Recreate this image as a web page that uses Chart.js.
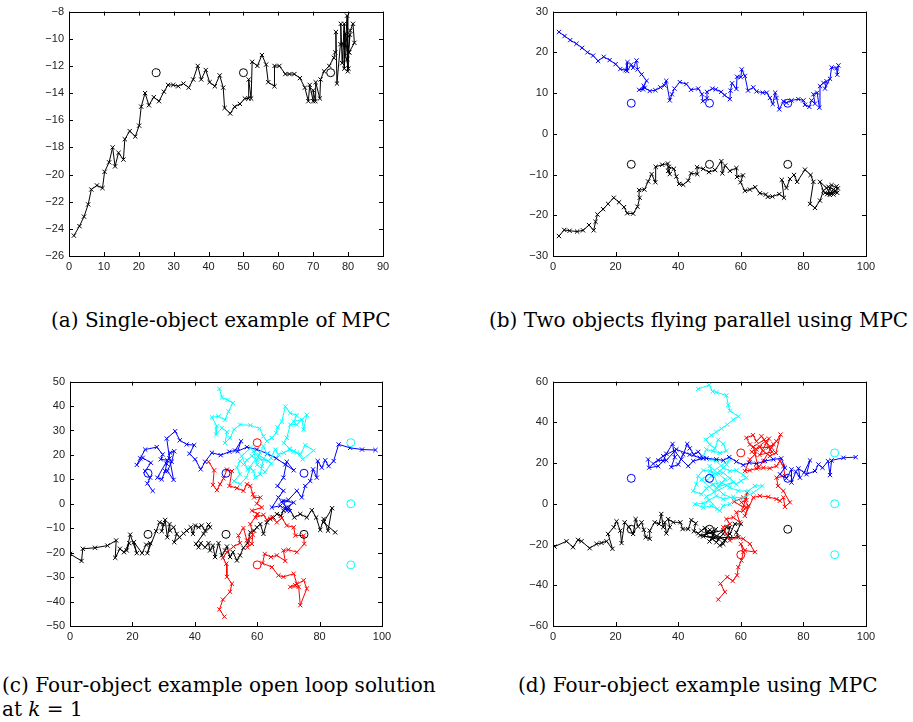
<!DOCTYPE html>
<html>
<head>
<meta charset="utf-8">
<script src="https://cdn.jsdelivr.net/npm/chart.js@4.4.1/dist/chart.umd.min.js"></script>
<style>
  body { margin: 0; background: #fff; width: 913px; height: 722px; position: relative; overflow: hidden; }
  canvas { position: absolute; }
  .cap { position: absolute; font-family: "DejaVu Serif", serif; font-size: 20px; line-height: 24px; color: #000; white-space: nowrap; }
</style>
</head>
<body>
<canvas id="ca" width="370" height="280" style="left:30px;top:0px"></canvas>
<canvas id="cb" width="380" height="280" style="left:510px;top:0px"></canvas>
<canvas id="cc" width="370" height="280" style="left:30px;top:370px"></canvas>
<canvas id="cd" width="380" height="280" style="left:510px;top:370px"></canvas>
<div class="cap" style="left:51px;top:308px">(a) Single-object example of MPC</div>
<div class="cap" style="left:489px;top:308px">(b) Two objects flying parallel using MPC</div>
<div class="cap" style="left:2px;top:673px">(c) Four-object example open loop solution</div>
<div class="cap" style="left:2px;top:697px">at <i>k</i> = 1</div>
<div class="cap" style="left:518px;top:673px">(d) Four-object example using MPC</div>
<script>
// (a) single object
const aX = [1.4,3.0,4.3,5.5,6.4,8.0,9.6,10.2,11.5,12.5,13.2,14.2,15.6,16.0,17.4,19.0,20.1,20.7,21.8,22.9,24.3,25.8,27.2,28.4,29.9,31.3,32.8,34.3,35.6,36.9,37.9,39.2,40.3,41.8,43.2,44.2,44.6,46.2,47.5,49.0,50.4,51.5,51.5,52.2,52.5,54.0,55.3,56.5,57.1,58.9,58.9,60.3,62.0,63.2,64.6,66.2,67.6,68.6,69.0,70.0,70.0,70.6,70.7,71.9,72.1,73.1,74.6,75.9,76.3,76.5,76.8,77.8,77.9,78.3,78.9,78.9,79.7,79.9,80.2,80.6,81.4,81.8,80.3,79.2,80.1,78.6,80.5,79.8]
const aY = [-24.5,-23.8,-23.1,-22.2,-21.1,-20.8,-21.0,-19.8,-19.1,-18.0,-19.4,-18.4,-18.9,-17.4,-16.8,-17.2,-16.4,-15.0,-14.0,-14.9,-14.3,-14.6,-13.9,-13.4,-13.4,-13.5,-13.3,-13.6,-13.0,-12.0,-13.0,-12.3,-13.2,-13.5,-12.7,-13.6,-15.1,-15.5,-15.0,-14.8,-14.4,-14.4,-13.0,-14.4,-11.7,-12.0,-11.2,-11.9,-13.2,-13.5,-12.0,-12.0,-12.6,-12.6,-12.6,-12.9,-13.6,-14.6,-13.4,-14.6,-13.8,-14.6,-13.2,-14.4,-13.0,-12.4,-12.0,-11.4,-11.0,-9.5,-13.3,-10.4,-8.9,-11.8,-8.9,-12.2,-8.3,-12.4,-11.0,-9.4,-8.9,-10.3,-11.0,-9.6,-12.2,-10.4,-9.7,-11.5]
const aGoalX = [25, 50, 75]
const aGoalY = [-12.5, -12.5, -12.5]

// (b) two objects
const bBlueX = [1.9,3.7,5.5,7.5,9.3,11.0,12.8,14.4,16.2,18.1,20.0,21.5,23.2,23.8,23.7,25.0,25.6,26.7,27.0,28.3,29.9,29.0,28.8,27.5,29.3,30.9,32.7,34.3,35.6,36.2,37.3,38.0,38.8,40.5,42.6,44.1,46.4,47.6,47.9,49.2,49.2,50.9,52.0,53.7,54.8,56.5,56.7,57.2,58.6,58.8,60.0,60.3,61.3,62.3,64.0,65.0,67.0,68.3,69.3,70.2,71.0,71.4,72.3,73.6,74.6,76.2,78.4,80.0,80.5,81.9,82.6,83.7,83.2,84.4,85.1,85.3,86.4,87.4,86.9,88.5,89.0,90.6,90.8,91.2]
const bBlueY = [25.0,24.0,23.0,22.1,21.1,20.0,19.2,17.9,18.9,18.1,17.1,15.9,15.6,17.6,15.4,17.0,16.2,18.0,15.8,14.6,13.0,11.8,10.9,10.8,11.3,10.5,10.7,11.4,11.9,13.0,8.2,9.7,11.1,12.7,12.2,10.8,11.1,9.7,8.0,8.7,10.3,11.1,10.9,10.3,9.5,8.5,10.6,12.4,11.0,14.0,13.9,15.8,14.2,10.6,11.4,10.4,10.1,10.1,8.8,7.3,10.1,8.8,6.0,8.0,7.6,8.2,8.5,8.2,7.1,6.6,8.2,7.4,9.7,10.1,6.4,11.7,12.5,12.9,11.1,13.5,16.3,16.1,14.5,16.8]
const bBlackX = [1.9,3.6,5.3,7.7,9.6,11.5,13.0,13.6,14.2,16.0,17.6,19.4,21.1,22.7,23.7,25.6,27.0,27.7,27.5,29.2,30.4,31.5,32.7,32.8,34.9,36.7,36.8,37.3,37.0,38.6,39.4,40.3,41.6,43.2,44.1,46.1,46.0,48.0,49.8,51.8,53.8,54.1,55.0,56.5,58.6,58.8,60.7,59.9,61.3,62.9,64.6,66.1,68.0,68.6,70.1,72.3,73.8,73.1,74.6,75.7,77.0,78.0,80.5,82.3,83.2,82.1,83.7,85.3,86.4,85.3,87.4,88.5,89.6,90.6,90.8,86.9,89.6,88.0,90.2,87.6,89.0,91.0,88.4]
const bBlackY = [-25.1,-23.6,-23.8,-24.0,-23.7,-22.4,-23.7,-21.6,-19.8,-18.5,-17.2,-15.7,-16.8,-18.0,-19.5,-19.6,-17.9,-15.7,-13.8,-13.7,-11.7,-9.9,-11.9,-8.1,-7.6,-7.3,-9.1,-9.9,-8.1,-8.6,-10.5,-12.3,-12.5,-11.5,-9.7,-9.9,-8.2,-8.6,-9.4,-8.9,-6.7,-9.7,-7.8,-9.1,-8.4,-10.6,-10.2,-11.9,-14.0,-13.7,-13.1,-14.6,-14.9,-15.5,-15.4,-14.8,-15.7,-11.3,-13.3,-11.1,-10.1,-11.8,-8.8,-10.1,-11.8,-17.2,-18.2,-16.4,-14.0,-11.8,-13.3,-14.5,-13.7,-12.9,-14.5,-14.5,-14.9,-13.0,-14.0,-14.8,-12.6,-13.4,-15.0]
const bGoalX = [25, 50, 75]
const bGoalBlueY = [7.5, 7.5, 7.5]
const bGoalBlackY = [-7.5, -7.5, -7.5]

// (c) four objects, open loop
const cBlackX = [0.0,3.7,4.1,8.0,12.0,14.8,14.5,16.0,17.3,19.0,18.2,19.3,21.4,20.5,23.1,24.4,25.7,24.8,27.6,28.7,29.9,29.4,30.5,31.2,31.9,32.1,33.2,34.2,33.4,35.1,36.4,37.4,38.7,39.4,40.1,41.2,42.2,43.3,44.4,44.9,42.8,40.4,41.2,41.9,43.3,44.4,44.9,45.8,46.5,47.6,48.7,49.7,50.3,51.3,52.2,53.5,54.5,55.6,56.9,57.8,59.0,59.9,61.0,62.0,63.1,64.2,65.2,66.3,67.6,68.4,70.1,71.9,73.8,75.9,77.5,78.9,80.2,81.3,82.7,84.0,81.3,85.0]
const cBlackY = [-20.5,-23.4,-18.4,-18.0,-17.1,-15.0,-22.1,-18.4,-19.8,-16.1,-19.1,-12.6,-20.2,-15.7,-20.2,-16.7,-16.1,-20.2,-11.2,-7.6,-8.3,-11.2,-6.6,-13.7,-8.3,-11.0,-9.6,-12.3,-15.7,-13.7,-12.1,-11.0,-9.6,-12.3,-8.9,-9.6,-8.9,-11.0,-8.5,-9.6,-12.3,-16.4,-17.8,-16.1,-17.8,-16.1,-19.1,-17.1,-21.8,-16.1,-21.1,-19.1,-17.5,-21.8,-19.8,-23.2,-21.1,-18.0,-16.1,-11.7,-11.0,-9.6,-8.3,-12.3,-7.6,-6.2,-5.6,-4.2,-4.9,-2.8,-1.5,-5.6,-4.2,-5.6,-2.6,-5.6,-10.7,-6.2,-11.0,-1.8,-7.6,-11.7]
const cBlueX = [26.5,24.8,25.7,24.1,25.9,23.3,21.4,22.5,24.1,27.8,29.7,29.1,31.2,28.0,29.4,30.5,31.0,32.1,33.4,32.6,31.2,33.2,31.9,31.0,33.7,35.2,37.4,39.8,38.3,40.1,41.9,43.3,45.5,48.3,51.1,52.9,54.8,53.7,56.7,59.9,63.3,66.1,69.0,71.7,69.5,68.4,66.5,68.4,66.8,64.7,67.4,69.5,68.4,71.7,69.0,70.5,67.8,70.0,72.7,74.3,75.4,77.0,77.9,79.1,79.4,80.7,81.8,82.9,84.5,86.1,89.8,93.6,97.9]
const cBlueY = [5.3,8.3,10.7,13.4,16.8,18.8,15.9,18.6,22.2,23.2,20.2,18.2,17.8,10.7,10.0,13.4,16.4,20.9,21.5,17.2,13.4,9.8,18.6,26.7,29.7,26.0,24.3,24.0,20.5,18.2,14.1,17.2,20.9,19.9,21.3,21.8,25.6,21.5,23.2,22.2,20.5,18.6,16.1,13.7,17.2,10.7,7.3,5.3,2.6,-1.5,-0.8,-2.8,1.2,0.5,-1.8,-3.0,0.8,1.6,5.3,2.6,7.3,9.3,14.1,10.7,17.5,14.8,17.8,15.4,17.5,24.3,22.9,22.2,22.0]
const cRedX1 = [44.4,46.2,45.8,47.1,48.1,49.2,50.3,51.9,51.1,53.5,55.6,56.7,57.8,58.6,59.0,61.0,59.9,61.5,58.3,60.1,59.4,62.0,63.1,64.7,66.3,67.9,69.5,71.7,72.2,74.9,75.1,72.7,70.0,68.4,69.0,66.3,64.4,62.4,61.7,64.7,66.8,68.4,71.7,72.7,70.6,73.3,73.8,75.9,74.9,72.2]
const cRedY1 = [17.2,13.7,7.7,5.6,8.0,10.4,14.0,13.4,7.3,6.4,5.3,8.0,7.3,3.9,2.6,2.6,0.1,-1.5,-2.8,-4.2,-5.6,-4.5,-6.6,-5.6,-7.6,-5.8,-8.9,-9.6,-13.0,-13.0,-16.4,-19.8,-18.8,-19.1,-23.4,-21.1,-21.8,-20.5,-24.3,-25.9,-29.3,-29.9,-28.6,-32.7,-34.0,-34.0,-41.5,-34.7,-31.3,-33.3]
const cRedX2 = [60.1,57.8,58.6,58.3,56.9,57.8,56.7,55.6,54.0,54.5,52.4,50.3,49.0,50.1,50.3,51.9,51.3,49.0,47.9,49.5]
const cRedY2 = [-4.2,-8.3,-12.6,-16.4,-17.8,-13.7,-15.0,-9.9,-13.0,-16.1,-17.5,-19.8,-22.1,-24.5,-29.9,-32.7,-36.0,-39.2,-43.2,-46.2]
const cCyanX = [47.9,48.7,50.5,52.2,50.8,49.7,47.6,45.5,47.1,46.8,48.7,50.3,49.7,51.3,52.6,54.5,57.8,60.8,62.0,63.1,64.7,66.1,66.5,67.9,69.0,70.6,72.7,71.7,74.3,74.9,75.9,72.7,70.6,69.5,68.5,70.4,71.7,73.8,75.4,78.1,74.6,72.7,70.4,68.5,66.8,65.8,64.4,63.1,62.0,60.9,59.9,58.3,56.7,55.6,54.5,53.5,54.5,52.6,54.5,56.5,57.8,58.8,59.4,61.0,61.5,62.0,63.6,61.0,58.8,60.0,62.5,64.5,60.5,57.0,55.0,58.0]
const cCyanY = [47.0,43.5,42.5,41.2,37.8,34.4,35.8,35.4,31.7,28.3,31.0,29.4,24.9,27.0,30.4,32.4,32.1,30.8,27.6,25.6,27.0,29.0,31.3,33.7,39.8,37.1,36.2,33.7,34.4,30.4,36.4,32.4,32.4,27.0,24.9,22.6,21.5,20.2,24.0,21.8,18.2,20.9,22.2,20.9,20.2,22.2,18.8,20.5,23.6,20.9,17.8,19.5,17.8,16.1,17.5,14.8,12.1,9.3,8.0,10.7,14.8,13.4,10.7,12.1,15.4,18.6,17.5,18.2,21.5,16.0,13.0,16.5,20.0,14.0,19.5,23.0]

// (d) four objects, MPC
const dBlackX = [0.5,4.3,6.4,8.0,9.1,11.7,13.9,15.5,17.1,19.0,17.6,19.4,20.3,21.5,21.9,22.9,24.3,25.6,26.4,27.2,28.3,29.0,29.6,30.9,30.9,32.5,33.9,34.6,35.2,35.7,36.2,37.3,36.8,38.4,40.7,41.4,43.2,44.2,45.6,45.0,46.4,47.4,48.5,49.0,50.1,51.4,50.9,52.2,53.3,54.4,55.4,56.5,55.9,54.4,53.3,56.5,58.1,60.0,58.6,59.2,56.7,48.0,52.0,50.0,54.5,47.0,53.0,49.5,55.0]
const dBlackY = [-21.0,-18.4,-21.3,-17.7,-18.4,-21.8,-19.7,-19.2,-18.4,-22.1,-14.8,-11.5,-8.6,-13.2,-19.3,-9.1,-11.5,-14.8,-7.5,-11.2,-9.1,-12.8,-16.4,-17.2,-13.2,-9.1,-9.9,-5.0,-11.5,-9.1,-14.5,-11.5,-7.5,-9.1,-9.1,-12.4,-12.4,-8.0,-9.6,-13.5,-14.5,-13.2,-11.9,-14.8,-12.8,-14.5,-17.2,-18.9,-16.4,-14.8,-11.5,-11.5,-15.6,-19.7,-20.5,-14.8,-9.9,-9.9,-14.0,-16.4,-16.7,-16.0,-12.5,-18.5,-13.0,-15.5,-17.5,-13.5,-18.0]
const dBlueX = [30.4,30.7,33.6,35.2,36.2,38.2,38.9,37.8,40.0,41.6,42.9,43.7,45.0,46.4,48.0,44.8,43.2,41.0,38.9,36.2,33.6,32.0,35.2,39.4,43.7,46.9,49.0,52.2,54.4,56.3,58.6,60.8,62.7,65.0,67.7,70.4,72.9,74.1,72.5,74.6,76.2,76.2,77.6,78.9,78.4,80.2,82.1,81.0,83.7,84.8,86.1,87.9,88.5,89.0,92.8,96.7]
const dBlueY = [21.8,17.7,18.5,21.0,24.6,29.4,22.9,18.0,19.3,24.2,29.4,27.2,24.2,25.5,22.3,21.0,18.5,21.8,25.9,21.3,21.3,19.7,23.4,26.7,24.2,22.6,22.3,21.8,21.3,22.9,20.7,19.0,20.2,19.7,21.0,21.8,22.3,17.7,14.5,12.5,16.9,10.4,15.8,12.8,17.4,15.3,21.3,14.5,16.1,19.3,17.7,20.9,14.1,21.3,22.6,22.9]
const dRedX = [52.8,54.9,53.5,55.7,57.4,58.8,59.2,60.2,60.8,60.0,61.3,64.5,62.9,60.8,58.6,56.5,55.4,54.4,56.5,55.4,57.6,59.7,58.6,60.8,61.6,60.2,61.8,62.0,60.8,57.9,60.8,62.4,61.3,64.0,66.1,68.8,71.4,72.5,73.6,74.1,75.7,73.6,71.9,71.4,74.1,73.6,72.5,71.4,69.3,67.2,65.0,62.9,61.3,62.9,64.5,65.0,62.9,61.8,63.9,65.0,66.6,68.2,69.8,71.4,72.7,71.2,69.3,67.2,66.1,68.8,70.4,67.2,65.6,64.0,67.5,70.0,66.0,69.0,63.5]
const dRedY = [-47.0,-43.3,-39.2,-35.9,-37.9,-35.1,-31.1,-27.8,-23.7,-19.7,-22.9,-23.7,-19.7,-17.2,-16.4,-18.0,-14.8,-11.5,-9.9,-7.5,-6.7,-9.1,-4.2,-3.4,-1.8,0.7,1.8,5.5,-1.8,1.1,3.1,-1.0,-5.9,3.1,3.9,3.4,2.3,1.5,3.1,-1.5,0.7,6.3,8.8,12.8,13.7,18.5,21.0,18.5,17.4,17.7,17.4,16.4,16.1,21.8,24.2,26.7,29.1,32.4,33.7,30.7,33.2,29.9,27.5,30.7,34.0,25.0,23.4,25.9,27.8,27.6,29.3,21.0,17.7,28.0,31.5,25.5,24.0,32.0,25.5]
const dCyanX = [46.4,49.9,51.0,52.2,55.4,56.0,56.5,59.2,57.6,55.7,53.8,52.2,50.6,48.8,50.1,51.7,52.8,54.4,55.4,53.3,51.2,49.0,48.0,50.1,52.2,54.4,56.5,58.6,60.8,61.8,60.0,58.6,56.5,54.4,52.2,50.1,48.0,46.4,45.8,44.8,47.4,49.0,51.2,53.8,56.5,59.2,62.4,64.5,66.9,64.0,60.8,57.6,54.4,52.2,49.6,48.0,45.3,48.0,50.6,53.3,54.4,56.5,58.1,54.4,52.2,49.0,50.6,53.3,55.4,56.5,47.5,51.5,55.0,50.0,53.0,57.5,49.0,52.5]
const dCyanY = [56.4,58.3,55.1,54.8,53.2,48.6,45.7,42.9,41.3,38.9,36.9,35.3,33.7,31.5,29.1,27.2,31.5,29.4,25.9,25.0,25.9,26.7,23.4,21.8,21.0,17.7,16.1,16.4,14.1,12.8,11.2,9.6,12.5,15.3,14.5,16.1,16.4,13.7,9.6,6.3,4.7,7.6,9.6,10.4,8.0,6.3,6.3,8.8,8.8,5.5,2.8,3.4,2.3,3.9,1.5,0.2,-0.2,-1.8,-1.0,-3.4,-1.0,-0.2,2.3,4.7,8.0,11.2,13.7,16.1,19.3,21.8,12.0,6.0,12.0,18.5,8.5,10.5,3.5,-2.5]

// goal circles shared by (c) and (d)
const goalThreeX = [25, 50, 75]
const goalBlackY = [-12.5, -12.5, -12.5]
const goalBlueY = [12.5, 12.5, 12.5]
const goalRedX = [60, 60]
const goalRedY = [25, -25]
const goalCyanX = [90, 90, 90]
const goalCyanY = [25, 0, -25]

const BLUE = '#0000ff', RED = '#ff0000', CYAN = '#00ffff', BLACK = '#000000'

function pts(xs, ys) {
  return xs.map((x, i) => ({ x: x, y: ys[i] }))
}

function track(xs, ys, color) {
  return {
    data: pts(xs, ys), showLine: true, borderColor: color, borderWidth: 1,
    pointStyle: 'crossRot', pointRadius: 3, pointBorderColor: color, pointBorderWidth: 1,
    pointBackgroundColor: color
  }
}

function goals(xs, ys, color) {
  return {
    data: pts(xs, ys), showLine: false, pointStyle: 'circle', pointRadius: 4,
    pointBorderColor: color, pointBorderWidth: 1, pointBackgroundColor: 'rgba(0,0,0,0)'
  }
}

// box around the axes and MATLAB-style ticks pointing inwards
const boxTicks = {
  id: 'boxTicks',
  afterDraw(chart) {
    const { ctx, chartArea: a, scales: { x, y } } = chart
    ctx.save()
    ctx.strokeStyle = '#000'
    ctx.lineWidth = 1
    ctx.strokeRect(Math.round(a.left) + 0.5, Math.round(a.top) + 0.5, Math.round(a.right - a.left), Math.round(a.bottom - a.top))
    ctx.beginPath()
    x.ticks.forEach(t => {
      const px = Math.round(x.getPixelForValue(t.value)) + 0.5
      ctx.moveTo(px, a.bottom); ctx.lineTo(px, a.bottom - 4)
      ctx.moveTo(px, a.top); ctx.lineTo(px, a.top + 4)
    })
    y.ticks.forEach(t => {
      const py = Math.round(y.getPixelForValue(t.value)) + 0.5
      ctx.moveTo(a.left, py); ctx.lineTo(a.left + 4, py)
      ctx.moveTo(a.right, py); ctx.lineTo(a.right - 4, py)
    })
    ctx.stroke()
    ctx.restore()
  }
}

function axis(min, max, step, size, isX) {
  return {
    type: 'linear', min: min, max: max,
    grid: { display: false, drawTicks: false },
    border: { display: false },
    ticks: {
      stepSize: step, padding: isX ? 4 : 5, color: '#222',
      font: { family: 'Liberation Sans, Arial, sans-serif', size: 11 },
      maxRotation: 0, autoSkip: false,
      callback: v => String(v).replace('-', '\u2212')
    },
    afterFit: s => { if (isX) s.height = size; else s.width = size }
  }
}

function plot(id, xr, yr, yWidth, pad, datasets) {
  new Chart(document.getElementById(id), {
    type: 'scatter',
    data: { datasets: datasets },
    options: {
      responsive: false, animation: false, devicePixelRatio: 1,
      layout: { padding: pad },
      plugins: { legend: { display: false }, tooltip: { enabled: false } },
      scales: {
        x: axis(xr[0], xr[1], xr[2], 24, true),
        y: axis(yr[0], yr[1], yr[2], yWidth, false)
      }
    },
    plugins: [boxTicks]
  })
}

plot('ca', [0, 90, 10], [-26, -8, 2], 39, { top: 9, right: 17, left: 0, bottom: 0 }, [
  goals(aGoalX, aGoalY, BLACK),
  track(aX, aY, BLACK)
])

plot('cb', [0, 100, 20], [-30, 30, 10], 43, { top: 10, right: 24, left: 0, bottom: 0 }, [
  goals(bGoalX, bGoalBlueY, BLUE),
  goals(bGoalX, bGoalBlackY, BLACK),
  track(bBlueX, bBlueY, BLUE),
  track(bBlackX, bBlackY, BLACK)
])

plot('cc', [0, 100, 20], [-50, 50, 10], 40, { top: 10, right: 18, left: 0, bottom: 0 }, [
  goals(goalThreeX, goalBlackY, BLACK),
  goals(goalThreeX, goalBlueY, BLUE),
  goals(goalRedX, goalRedY, RED),
  goals(goalCyanX, goalCyanY, CYAN),
  track(cCyanX, cCyanY, CYAN),
  track(cRedX1, cRedY1, RED),
  track(cRedX2, cRedY2, RED),
  track(cBlueX, cBlueY, BLUE),
  track(cBlackX, cBlackY, BLACK)
])

plot('cd', [0, 100, 20], [-60, 60, 20], 43, { top: 10, right: 24, left: 0, bottom: 0 }, [
  goals(goalThreeX, goalBlackY, BLACK),
  goals(goalThreeX, goalBlueY, BLUE),
  goals(goalRedX, goalRedY, RED),
  goals(goalCyanX, goalCyanY, CYAN),
  track(dBlueX, dBlueY, BLUE),
  track(dCyanX, dCyanY, CYAN),
  track(dRedX, dRedY, RED),
  track(dBlackX, dBlackY, BLACK)
])
</script>
</body>
</html>
